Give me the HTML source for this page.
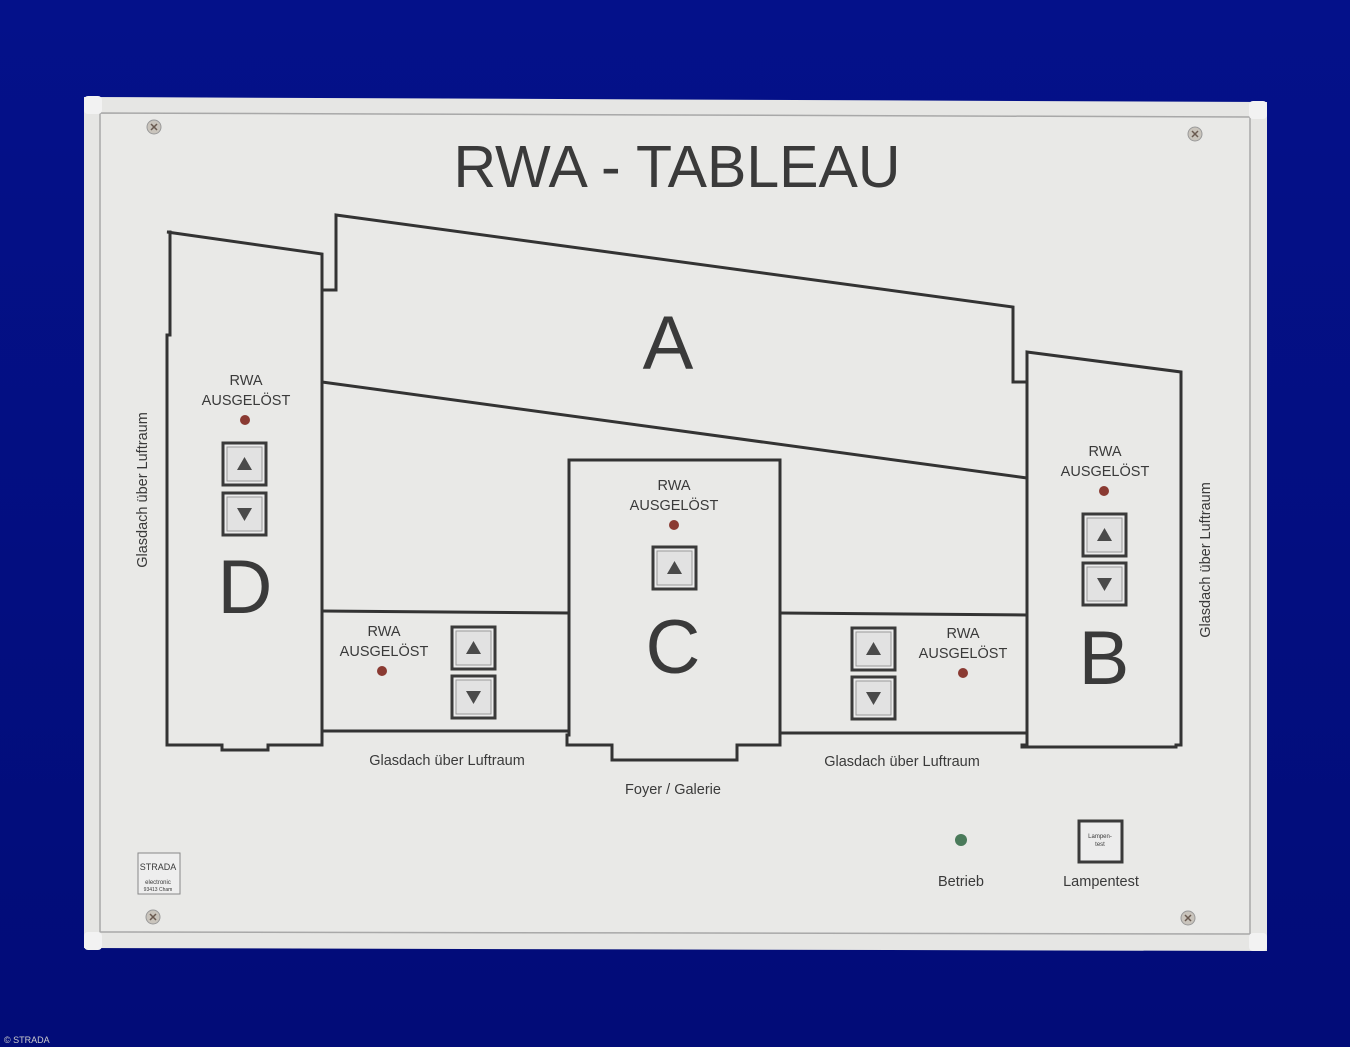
<!DOCTYPE html>
<html><head><meta charset="utf-8"><style>
html,body{margin:0;padding:0;background:#030f86;}
svg{display:block}
text{font-family:"Liberation Sans",sans-serif;fill:#3a3a3a}
</style></head><body>
<svg width="1350" height="1047" viewBox="0 0 1350 1047" xmlns="http://www.w3.org/2000/svg">
<defs>
<linearGradient id="bg" x1="0" y1="0" x2="0" y2="1"><stop offset="0" stop-color="#04118a"/><stop offset="1" stop-color="#020c78"/></linearGradient>
<g id="up"><rect x="0" y="0" width="43" height="42" fill="#ececec" stroke="#3a3a3a" stroke-width="3"/><rect x="4" y="4" width="35" height="34" fill="#e2e2e2" stroke="#999" stroke-width="1"/><polygon points="21.5,14 29,27 14,27" fill="#4a4a4a"/></g>
<g id="dn"><rect x="0" y="0" width="43" height="42" fill="#ececec" stroke="#3a3a3a" stroke-width="3"/><rect x="4" y="4" width="35" height="34" fill="#e2e2e2" stroke="#999" stroke-width="1"/><polygon points="14,15 29,15 21.5,28" fill="#4a4a4a"/></g>
<g id="scr"><circle r="7" fill="#c9c4bc" stroke="#999" stroke-width="1"/><path d="M-3,-3L3,3M3,-3L-3,3" stroke="#6a5a50" stroke-width="1.5"/></g>
</defs>
<rect width="1350" height="1047" fill="url(#bg)"/>
<polygon points="84,97 1267,102 1267,951 84,948" fill="#e6e6e4"/>
<polygon points="100,113 1250,117 1250,934 100,932" fill="#e9e9e7" stroke="#a8a8a8" stroke-width="1.5"/>
<rect x="84" y="96" width="18" height="18" rx="4" fill="#f2f2f2"/>
<rect x="1249" y="101" width="18" height="18" rx="4" fill="#f2f2f2"/>
<rect x="84" y="932" width="18" height="18" rx="4" fill="#f2f2f2"/>
<rect x="1249" y="933" width="18" height="18" rx="4" fill="#f2f2f2"/>
<use href="#scr" x="154" y="127"/><use href="#scr" x="1195" y="134"/><use href="#scr" x="153" y="917"/><use href="#scr" x="1188" y="918"/>
<text x="677" y="187" font-size="59" text-anchor="middle" fill="#3a3a3a">RWA - TABLEAU</text>
<g fill="none" stroke="#333" stroke-width="3" stroke-linejoin="miter">
<polygon points="167,232 322,254 322,745 268,745 268,750 222,750 222,745 167,745 167,335 170,335 170,232"/>
<polyline points="322,290 336,290 336,215 1013,307 1013,382 1027,382"/>
<line x1="322" y1="382" x2="1027" y2="478"/>
<polygon points="1027,352 1181,372 1181,745 1176,745 1176,747 1022,747 1022,745 1027,745"/>
<polygon points="569,460 780,460 780,745 737,745 737,760 612,760 612,745 567,745 567,735 569,735"/>
<polyline points="322,611 569,613"/>
<polyline points="322,731 569,731"/>
<polyline points="780,613 1027,615"/>
<polyline points="780,733 1027,733"/>
</g>
<g font-size="14.5" text-anchor="middle">
<text x="246" y="385">RWA</text><text x="246" y="405">AUSGELÖST</text>
<text x="384" y="636">RWA</text><text x="384" y="656">AUSGELÖST</text>
<text x="674" y="490">RWA</text><text x="674" y="510">AUSGELÖST</text>
<text x="963" y="638">RWA</text><text x="963" y="658">AUSGELÖST</text>
<text x="1105" y="456">RWA</text><text x="1105" y="476">AUSGELÖST</text>
<text x="447" y="765">Glasdach über Luftraum</text>
<text x="673" y="794">Foyer / Galerie</text>
<text x="902" y="766">Glasdach über Luftraum</text>
<text x="961" y="886">Betrieb</text>
<text x="1101" y="886">Lampentest</text>
<text transform="translate(147,490) rotate(-90)">Glasdach über Luftraum</text>
<text transform="translate(1210,560) rotate(-90)">Glasdach über Luftraum</text>
</g>
<g font-size="76" text-anchor="middle">
<text x="668" y="369">A</text>
<text x="245" y="613">D</text>
<text x="673" y="673">C</text>
<text x="1104" y="684">B</text>
</g>
<g fill="#8a3a32"><circle cx="245" cy="420" r="5"/><circle cx="382" cy="671" r="5"/><circle cx="674" cy="525" r="5"/><circle cx="963" cy="673" r="5"/><circle cx="1104" cy="491" r="5"/></g>
<circle cx="961" cy="840" r="6" fill="#4a7a5a"/>
<use href="#up" x="223" y="443"/><use href="#dn" x="223" y="493"/>
<use href="#up" x="452" y="627"/><use href="#dn" x="452" y="676"/>
<use href="#up" x="653" y="547"/>
<use href="#up" x="852" y="628"/><use href="#dn" x="852" y="677"/>
<use href="#up" x="1083" y="514"/><use href="#dn" x="1083" y="563"/>
<rect x="1079" y="821" width="43" height="41" fill="#ececec" stroke="#3a3a3a" stroke-width="3"/>
<text x="1100" y="838" font-size="6" text-anchor="middle">Lampen-</text><text x="1100" y="846" font-size="6" text-anchor="middle">test</text>
<rect x="138" y="853" width="42" height="41" fill="#eee" stroke="#888" stroke-width="1"/>
<text x="158" y="870" font-size="9" text-anchor="middle" fill="#666">STRADA</text>
<text x="158" y="884" font-size="6" text-anchor="middle" fill="#555">electronic</text>
<text x="158" y="891" font-size="5" text-anchor="middle" fill="#555">93413 Cham</text>
<text x="4" y="1043" font-size="9" style="fill:#ccc">© STRADA</text>
</svg>
</body></html>
